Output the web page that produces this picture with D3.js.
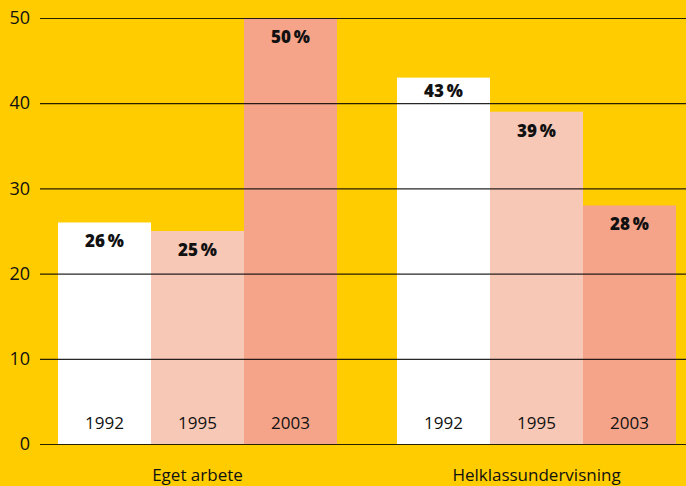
<!DOCTYPE html>
<html>
<head>
<meta charset="utf-8">
<script src="https://cdn.jsdelivr.net/npm/d3@7"></script>
<style>
  body { margin: 0; background: #FFCC00; }
  svg { display: block; font-family: "Open Sans", Lato, sans-serif; }
</style>
</head>
<body>
<svg id="chart" width="686" height="486"></svg>
<script>
// data
var categories = ["Eget arbete", "Helklassundervisning"];
var years = ["1992", "1995", "2003"];
var values = [
    [26, 25, 50],
    [43, 39, 28]
];
var yTicks = [0, 10, 20, 30, 40, 50];
var barColors = ["#FFFFFF", "#F8C8B7", "#F5A48A"];

var width = 686, height = 486;
var svg = d3.select("#chart");

svg.append("rect")
    .attr("width", width)
    .attr("height", height)
    .attr("fill", "#FFCC00");

var y = d3.scaleLinear().domain([0, 50]).range([444, 18]);

// category bands
var x0 = d3.scaleBand()
    .domain(categories)
    .range([58, 676])
    .paddingInner(60 / 339)
    .paddingOuter(0);

var x1 = d3.scaleBand()
    .domain(years)
    .range([0, x0.bandwidth()]);

var groups = svg.selectAll("g.group")
    .data(categories)
    .enter()
    .append("g")
    .attr("class", "group")
    .attr("transform", function(d) { return "translate(" + x0(d) + ",0)"; });

groups.selectAll("rect")
    .data(function(d, i) { return values[i].map(function(v, j) { return {year: years[j], value: v, idx: j}; }); })
    .enter()
    .append("rect")
    .attr("x", function(d) { return x1(d.year); })
    .attr("width", x1.bandwidth())
    .attr("y", function(d) { return y(d.value); })
    .attr("height", function(d) { return y(0) - y(d.value); })
    .attr("fill", function(d) { return barColors[d.idx]; });

// gridlines on top of bars
var axis = d3.axisLeft(y)
    .tickValues(yTicks)
    .tickSize(-(width - 40))
    .tickPadding(10);

var ag = svg.append("g")
    .attr("transform", "translate(40,0)")
    .call(axis);
ag.select(".domain").remove();
ag.selectAll(".tick line")
    .attr("stroke", "#000")
    .attr("stroke-opacity", 0.85)
    .attr("stroke-width", 1.2);
ag.selectAll(".tick text")
    .attr("fill", "#111")
    .style("font-family", "'Open Sans', sans-serif")
    .style("font-size", "18px")
    .style("font-weight", "500");

// value label baseline, nudged up if it would sit on a gridline
function labelY(v) {
    var b = y(v) + 25;
    yTicks.forEach(function(t) {
        var ty = y(t);
        if (ty > b - 14 && ty < b + 3) b = ty - 6;
    });
    return b;
}

// value labels
groups.selectAll("text.val")
    .data(function(d, i) { return values[i].map(function(v, j) { return {year: years[j], value: v}; }); })
    .enter()
    .append("text")
    .attr("class", "val")
    .attr("x", function(d) { return x1(d.year) + x1.bandwidth() / 2; })
    .attr("y", function(d) { return labelY(d.value); })
    .attr("text-anchor", "middle")
    .style("font-size", "17px")
    .style("font-weight", "800")
    .attr("fill", "#111")
    .text(function(d) { return d.value + "\u2009%"; });

// year labels
groups.selectAll("text.year")
    .data(years)
    .enter()
    .append("text")
    .attr("class", "year")
    .attr("x", function(d) { return x1(d) + x1.bandwidth() / 2; })
    .attr("y", 429)
    .attr("text-anchor", "middle")
    .style("font-size", "17px")
    .style("font-weight", "500")
    .attr("fill", "#111")
    .text(function(d) { return d; });

// category labels
svg.selectAll("text.cat")
    .data(categories)
    .enter()
    .append("text")
    .attr("class", "cat")
    .attr("x", function(d) { return x0(d) + x0.bandwidth() / 2; })
    .attr("y", 481)
    .attr("text-anchor", "middle")
    .style("font-size", "17px")
    .style("font-weight", "500")
    .attr("fill", "#111")
    .text(function(d) { return d; });
</script>
</body>
</html>
